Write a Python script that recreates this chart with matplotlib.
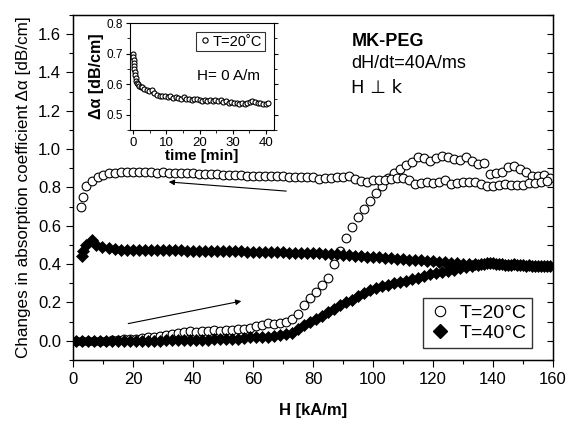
import matplotlib
matplotlib.use("Agg")
import matplotlib.pyplot as plt
from matplotlib.ticker import MultipleLocator

plt.rcParams['font.family'] = ['Liberation Sans', 'DejaVu Sans']

# ---------------- data ----------------
H_up = [1, 3, 5, 7, 9, 11, 13, 15, 17, 19, 21, 23, 25, 27, 29, 31, 33, 35, 37, 39,
        41, 43, 45, 47, 49, 51, 53, 55, 57, 59, 61, 63, 65, 67, 69, 71, 73, 75, 77, 79,
        81, 83, 85, 87, 89, 91, 93, 95, 97, 99, 101, 103, 105, 107, 109, 111, 113, 115, 117, 119,
        121, 123, 125, 127, 129, 131, 133, 135, 137, 139, 141, 143, 145, 147, 149, 151, 153, 155, 157, 159]

T20_up = [0.00, 0.00, 0.00, 0.00, 0.00, 0.00, 0.005, 0.005, 0.01, 0.01,
          0.01, 0.015, 0.02, 0.02, 0.025, 0.03, 0.035, 0.04, 0.045, 0.05,
          0.045, 0.05, 0.05, 0.055, 0.05, 0.055, 0.055, 0.06, 0.06, 0.065,
          0.075, 0.08, 0.095, 0.09, 0.095, 0.10, 0.115, 0.14, 0.185, 0.225,
          0.255, 0.29, 0.33, 0.40, 0.47, 0.535, 0.595, 0.645, 0.69, 0.73,
          0.77, 0.81, 0.85, 0.875, 0.895, 0.915, 0.935, 0.96, 0.955, 0.94,
          0.955, 0.965, 0.96, 0.95, 0.945, 0.96, 0.94, 0.92, 0.93, 0.87,
          0.875, 0.88, 0.905, 0.91, 0.895, 0.88, 0.86, 0.86, 0.865, 0.85]

H_down20 = [2.8, 3.2, 4.3, 6.3, 8.2, 10, 12, 14, 16, 18, 20, 22, 24, 26, 28, 30, 32, 34, 36, 38,
            40, 42, 44, 46, 48, 50, 52, 54, 56, 58, 60, 62, 64, 66, 68, 70, 72, 74, 76, 78,
            80, 82, 84, 86, 88, 90, 92, 94, 96, 98, 100, 102, 104, 106, 108, 110, 112, 114, 116, 118,
            120, 122, 124, 126, 128, 130, 132, 134, 136, 138, 140, 142, 144, 146, 148, 150, 152, 154, 156, 158]

T20_down = [0.70, 0.75, 0.81, 0.835, 0.855, 0.865, 0.873, 0.877, 0.88, 0.88,
            0.882, 0.88, 0.88, 0.88, 0.878, 0.88, 0.878, 0.876, 0.876, 0.875,
            0.874, 0.872, 0.872, 0.87, 0.868, 0.866, 0.865, 0.864, 0.863, 0.862,
            0.862, 0.86, 0.86, 0.858, 0.858, 0.858, 0.857, 0.856, 0.855, 0.856,
            0.855, 0.845, 0.848, 0.852, 0.854, 0.856, 0.86, 0.845, 0.835, 0.83,
            0.838, 0.84, 0.84, 0.845, 0.85, 0.85, 0.84, 0.82, 0.825, 0.828,
            0.822, 0.828, 0.838, 0.82, 0.825, 0.828, 0.828, 0.83, 0.82, 0.81,
            0.81, 0.815, 0.818, 0.815, 0.815, 0.812, 0.825, 0.825, 0.828, 0.835]

T40_up = [0.00, 0.00, 0.00, 0.00, 0.00, 0.00, 0.00, 0.00, 0.00, 0.00,
          0.00, 0.00, 0.00, 0.00, 0.00, 0.005, 0.005, 0.005, 0.005, 0.005,
          0.005, 0.005, 0.005, 0.01, 0.01, 0.01, 0.01, 0.01, 0.015, 0.02,
          0.02, 0.02, 0.02, 0.025, 0.03, 0.035, 0.04, 0.06, 0.08, 0.10,
          0.115, 0.13, 0.15, 0.165, 0.185, 0.20, 0.215, 0.235, 0.25, 0.265,
          0.275, 0.285, 0.29, 0.30, 0.305, 0.31, 0.32, 0.33, 0.34, 0.35,
          0.355, 0.36, 0.365, 0.37, 0.38, 0.385, 0.39, 0.395, 0.40, 0.405,
          0.40, 0.40, 0.395, 0.40, 0.395, 0.39, 0.39, 0.39, 0.39, 0.39]

H_down40 = [3.0, 3.4, 4.4, 6.3, 7.8, 9.8, 12, 14, 16, 18, 20, 22, 24, 26, 28, 30, 32, 34, 36, 38,
            40, 42, 44, 46, 48, 50, 52, 54, 56, 58, 60, 62, 64, 66, 68, 70, 72, 74, 76, 78,
            80, 82, 84, 86, 88, 90, 92, 94, 96, 98, 100, 102, 104, 106, 108, 110, 112, 114, 116, 118,
            120, 122, 124, 126, 128, 130, 132, 134, 136, 138, 140, 142, 144, 146, 148, 150, 152, 154, 156, 158]

T40_down = [0.445, 0.47, 0.50, 0.525, 0.50, 0.49, 0.482, 0.478, 0.476, 0.476,
            0.475, 0.475, 0.474, 0.474, 0.473, 0.473, 0.472, 0.472, 0.472, 0.471,
            0.471, 0.47, 0.47, 0.47, 0.47, 0.47, 0.468, 0.468, 0.467, 0.466,
            0.465, 0.465, 0.464, 0.463, 0.462, 0.461, 0.46, 0.46, 0.459, 0.458,
            0.457, 0.456, 0.455, 0.453, 0.451, 0.449, 0.447, 0.444, 0.441, 0.439,
            0.437, 0.435, 0.432, 0.43, 0.428, 0.426, 0.424, 0.422, 0.42, 0.418,
            0.416, 0.413, 0.41, 0.408, 0.405, 0.403, 0.402, 0.401, 0.40, 0.405,
            0.405, 0.40, 0.398, 0.397, 0.395, 0.394, 0.393, 0.392, 0.391, 0.39]

# inset: relaxation at H = 0
t_min = [0.0, 0.05, 0.1, 0.15, 0.2, 0.3, 0.4, 0.5, 0.7, 0.9, 1.2, 1.5, 1.8, 2.2, 2.6,
         3.2, 4.0, 4.8, 5.6, 6.4, 7.2, 8.0, 8.8, 9.6, 10.4, 11.2, 12.0, 12.8, 13.6, 14.4,
         15.2, 16.0, 16.8, 17.6, 18.4, 19.2, 20.0, 20.8, 21.6, 22.4, 23.2, 24.0, 24.8, 25.6,
         26.4, 27.2, 28.0, 28.8, 29.6, 30.4, 31.2, 32.0, 32.8, 33.6, 34.4, 35.2, 36.0, 36.8,
         37.6, 38.4, 39.2, 40.0, 40.8]
da_inset = [0.70, 0.69, 0.68, 0.67, 0.66, 0.65, 0.64, 0.63, 0.62, 0.612, 0.605, 0.60, 0.595, 0.592, 0.59,
            0.585, 0.58, 0.578, 0.58, 0.572, 0.565, 0.562, 0.56, 0.562, 0.558, 0.56, 0.555, 0.558, 0.556, 0.553,
            0.557, 0.552, 0.55, 0.548, 0.552, 0.55, 0.549, 0.546, 0.548, 0.545, 0.547, 0.544, 0.548, 0.545,
            0.548, 0.543, 0.545, 0.54, 0.542, 0.538, 0.54, 0.536, 0.538, 0.534, 0.537, 0.542, 0.545, 0.543,
            0.54, 0.538, 0.536, 0.535, 0.54]

# ---------------- figure ----------------
fig = plt.figure(figsize=(5.77, 4.32), dpi=100)
ax = fig.add_axes([0.1265, 0.1667, 0.832, 0.7986])

circ = dict(marker='o', ms=6.3, mfc='white', mec='black', mew=0.8, ls='none')
diam = dict(marker='D', ms=6.3, mfc='black', mec='black', mew=0.5, ls='none')

ax.plot(H_up, T20_up, **circ)
ax.plot(H_down20, T20_down, **circ)
ax.plot(H_up, T40_up, **diam)
ax.plot(H_down40, T40_down, **diam)

# legend handles
l1, = ax.plot([], [], label='T=20°C', marker='o', ms=7.5, mfc='white', mec='black', mew=0.8, ls='none')
l2, = ax.plot([], [], label='T=40°C', marker='D', ms=7.5, mfc='black', mec='black', ls='none')
leg = ax.legend(handles=[l1, l2], loc='lower right', bbox_to_anchor=(0.957, 0.035),
                fontsize=14, frameon=True, fancybox=False, edgecolor='black',
                handletextpad=0.4, borderpad=0.3, labelspacing=0.15, handlelength=1.2,
                borderaxespad=0.0)
leg.get_frame().set_linewidth(1.0)

ax.set_xlim(0, 160)
ax.set_ylim(-0.1, 1.7)
ax.xaxis.set_major_locator(MultipleLocator(20))
ax.xaxis.set_minor_locator(MultipleLocator(10))
ax.yaxis.set_major_locator(MultipleLocator(0.2))
ax.yaxis.set_minor_locator(MultipleLocator(0.1))
ax.yaxis.set_major_formatter(matplotlib.ticker.FormatStrFormatter('%.1f'))
ax.tick_params(axis='both', which='both', labelsize=12, direction='out', top=False, right=False)
ax.tick_params(which='major', length=5, width=0.8)
ax.tick_params(which='minor', length=3, width=0.8)
for s in ax.spines.values():
    s.set_linewidth(1.0)

# right-side inward ticks
axr = ax.twinx()
axr.set_ylim(-0.1, 1.7)
axr.yaxis.set_major_locator(MultipleLocator(0.1))
axr.tick_params(axis='y', direction='in', length=4, labelright=False)

ax.set_xlabel('H [kA/m]', fontsize=12, fontweight='bold', labelpad=12)
ax.set_ylabel('Changes in absorption coefficient Δα [dB/cm]', fontsize=12.3, labelpad=5)

ax.text(0.58, 0.91, 'MK-PEG', transform=ax.transAxes, fontsize=13, fontweight='bold')
ax.text(0.58, 0.846, 'dH/dt=40A/ms', transform=ax.transAxes, fontsize=13)
ax.text(0.58, 0.774, 'H ⊥ k', transform=ax.transAxes, fontsize=13, family=['DejaVu Sans'])

# arrows
ax.annotate('', xy=(31, 0.83), xytext=(72, 0.78),
            arrowprops=dict(arrowstyle='-|>', color='black', lw=0.8, mutation_scale=8))
ax.annotate('', xy=(57, 0.21), xytext=(17.5, 0.087),
            arrowprops=dict(arrowstyle='-|>', color='black', lw=0.8, mutation_scale=8))

# ---------------- inset ----------------
axi = fig.add_axes([0.2253, 0.699, 0.2496, 0.2477])
axi.plot(t_min, da_inset, marker='o', ms=3.6, mfc='white', mec='black', mew=0.8, ls='none')
axi.set_xlim(-1, 42.5)
axi.set_ylim(0.45, 0.8)
axi.xaxis.set_major_locator(MultipleLocator(10))
axi.xaxis.set_minor_locator(MultipleLocator(5))
axi.yaxis.set_major_locator(MultipleLocator(0.1))
axi.yaxis.set_minor_locator(MultipleLocator(0.05))
axi.tick_params(which='both', direction='out', length=3, pad=2)
axi.tick_params(axis='y', labelsize=8.5)
axi.tick_params(axis='x', labelsize=9.5)
axi.tick_params(which='minor', length=2)
axi.tick_params(axis='y', right=True, which='both')
axi.set_xlabel('time [min]', fontsize=11, fontweight='bold', labelpad=0)
axi.set_ylabel('Δα [dB/cm]', fontsize=11.5, fontweight='bold', labelpad=2)
ih, = axi.plot([], [], marker='o', ms=3.8, mfc='white', mec='black', mew=0.8, ls='none', label='T=20˚C')
il = axi.legend(handles=[ih], loc='upper right', fontsize=10.5, frameon=True, fancybox=False,
                edgecolor='black', handletextpad=0.1, borderpad=0.2, handlelength=0.9,
                bbox_to_anchor=(0.94, 0.92), borderaxespad=0.0)
il.get_frame().set_linewidth(0.8)
axi.text(0.465, 0.467, 'H= 0 A/m', transform=axi.transAxes, fontsize=11)

fig.savefig('out.png', dpi=100)
